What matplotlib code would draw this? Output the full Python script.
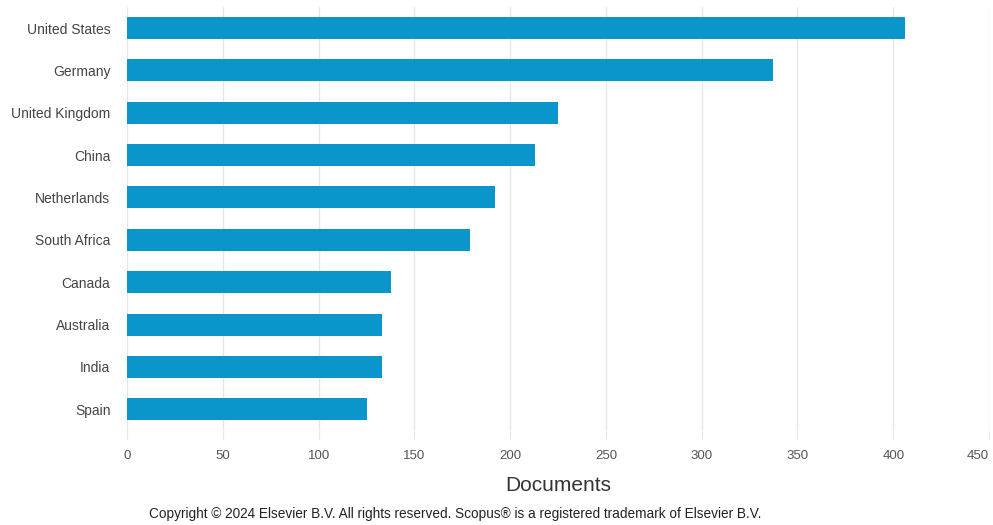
import matplotlib
matplotlib.use("Agg")
import matplotlib.pyplot as plt

countries = ["United States", "Germany", "United Kingdom", "China", "Netherlands",
             "South Africa", "Canada", "Australia", "India", "Spain"]
documents = [406, 337, 225, 213, 192, 179, 138, 133, 133, 125]
xticks = [0, 50, 100, 150, 200, 250, 300, 350, 400, 450]

plt.rcParams['font.family'] = ['Liberation Sans', 'DejaVu Sans']

fig = plt.figure(figsize=(9.93, 5.25), dpi=100)
ax = fig.add_axes([0.128, 0.18, 0.868, 0.807])

y = list(range(len(countries)))
ax.barh(y, documents, height=0.52, color="#0a96cb", zorder=3)
ax.set_yticks(y)
ax.set_yticklabels(countries)
ax.set_ylim(len(countries) - 0.5, -0.5)
ax.set_xlim(0, 450)
ax.set_xticks(xticks)

ax.grid(axis="x", color="#e6e6e6", linewidth=1, zorder=0)
for s in ax.spines.values():
    s.set_visible(False)
ax.tick_params(axis="y", length=0, pad=12, labelsize=10, labelcolor="#444444")
ax.tick_params(axis="x", length=6, color="#e6e6e6", pad=8, labelsize=9.5, labelcolor="#555555")
# last tick label kept inside the canvas, as in the original
ax.get_xticklabels()[-1].set_horizontalalignment("right")

ax.set_xlabel("Documents", fontsize=15, color="#333333", labelpad=10)
fig.text(0.458, 0.014, "Copyright \u00a9 2024 Elsevier B.V. All rights reserved. Scopus\u00ae is a registered trademark of Elsevier B.V.",
         ha="center", fontsize=9.8, color="#222222")

fig.savefig("out.png", dpi=100)
